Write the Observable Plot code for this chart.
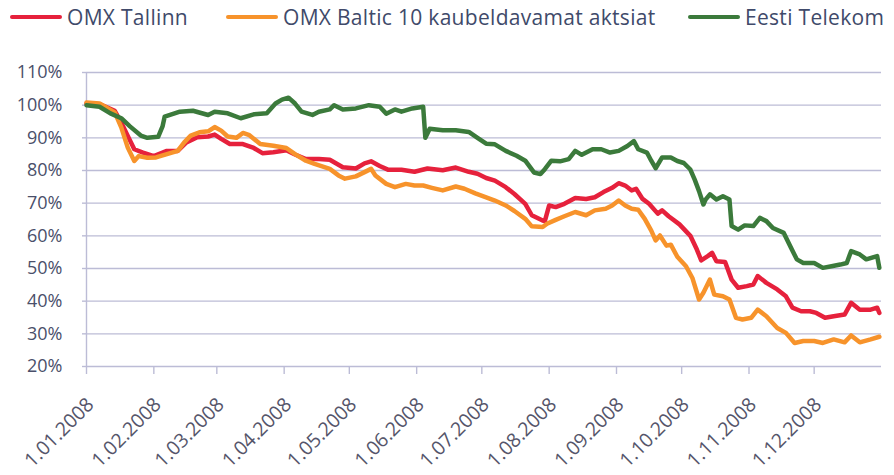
<!DOCTYPE html>
<html>
<head>
<meta charset="utf-8">
<script src="https://cdn.jsdelivr.net/npm/d3@7"></script>
<script src="https://cdn.jsdelivr.net/npm/@observablehq/plot@0.6"></script>
<style>
  html, body { margin: 0; padding: 0; background: #fff; }
  body { width: 894px; height: 475px; overflow: hidden; font-family: "Open Sans", sans-serif; }
  #legend { position: relative; height: 40px; width: 894px; }
  .item { position: absolute; top: 3px; display: flex; align-items: center; font-size: 21px; color: #404a6a; letter-spacing: 0.3px; white-space: nowrap; }
  .sw { display: inline-block; width: 52px; height: 4px; margin-right: 5px; border-radius: 2px; }
</style>
</head>
<body>
<div id="legend"></div>
<div id="chart"></div>
<script>
// Series names and colours
const seriesNames = ["OMX Tallinn", "OMX Baltic 10 kaubeldavamat aktsiat", "Eesti Telekom"];
const seriesColors = ["#e6213c", "#f7932b", "#3b7a3b"];
const legendLeft = [10, 226, 688];

// Day offsets from 1.01.2008 and index values (%)
const tallinnDay = [0,6,13,16,19,22,26,31,37,42,46,51,56,59,62,66,72,77,81,86,92,96,101,107,112,118,124,128,131,135,139,145,151,157,164,170,176,180,184,188,193,197,202,205,210,211,213,216,220,225,230,234,238,242,245,248,251,253,256,259,263,265,268,273,278,281,283,286,288,290,294,297,300,304,307,309,313,318,322,325,329,333,336,340,344,349,352,356,361,364,365];
const tallinnPct = [100.5,100.3,98.3,94.7,90.6,86.5,85.5,84.4,86,86,88.6,90.2,90.4,91,89.7,88.1,88.1,86.9,85.3,85.6,86.2,84.9,83.5,83.5,83.3,81,80.6,82.2,82.8,81.4,80.2,80.2,79.6,80.6,80.1,80.9,79.6,79,77.7,76.9,74.9,72.8,69.8,66.3,64.7,64.5,69.3,68.8,69.8,71.6,71.3,71.8,73.4,74.7,76.1,75.4,73.9,74.4,71.3,69.8,66.8,67.8,66,63.5,60,55.8,52.5,53.8,54.8,52.2,52,46.6,44.1,44.6,45.1,47.7,45.6,43.6,41.5,38,36.9,36.9,36.4,34.9,35.4,35.9,39.5,37.4,37.4,38,36.4];

const balticDay = [0,6,13,16,19,22,24,28,32,37,42,45,48,52,56,59,62,65,69,72,75,80,86,92,96,101,105,112,116,119,124,128,131,133,138,142,147,151,155,159,164,170,174,179,184,188,193,197,202,205,210,212,216,220,225,230,234,239,242,245,248,251,254,257,260,262,264,267,269,272,276,279,282,284,287,289,293,296,299,302,306,309,313,318,322,326,330,335,339,344,349,352,356,361,365];
const balticPct = [100.8,100.5,97.8,93.2,87,82.9,84.4,83.9,84,85,86,88.6,90.7,91.7,92,93.3,92.2,90.4,90,91.5,90.8,88.1,87.6,86.9,85,83,82,80.5,78.5,77.5,78.2,79.5,80.5,78.5,75.9,74.9,75.9,75.4,75.4,74.7,73.9,75.1,74.4,73,71.8,70.8,69.3,67.6,65.2,62.9,62.7,63.7,64.9,66,67.3,66.3,67.8,68.3,69.3,70.8,69.3,68.3,68,65.2,61.6,58.6,60.1,57,57.3,53.6,50.7,47,40.5,42.6,46.6,42,41.5,40.5,34.9,34.4,34.9,37.4,35.4,31.8,30.3,27.2,27.8,27.8,27.2,28.3,27.4,29.5,27.4,28.3,29.1];

const telekomDay = [0,6,11,16,20,25,28,33,35,36,43,49,56,59,65,71,77,83,87,90,93,96,99,104,107,112,114,118,124,130,135,138,142,145,150,155,156,158,164,170,176,180,184,188,193,198,202,206,209,211,214,218,222,225,228,233,237,241,245,249,252,254,258,260,262,265,269,272,275,278,280,282,284,285,287,290,293,296,297,300,303,307,310,313,316,321,324,327,330,335,339,343,347,350,352,356,359,364,365];
const telekomPct = [100,99.5,97.5,96,93.5,90.7,90,90.3,93.5,96.5,98,98.3,97,98,97.5,96,97.2,97.5,100.5,101.7,102.3,100.5,98,97,98,98.7,100,98.7,99,100,99.5,97.4,98.7,98,99,99.5,90,92.8,92.3,92.3,91.8,90,88.2,88,86,84.5,83,79.4,78.9,80.4,83,82.8,83.5,86,84.8,86.5,86.5,85.5,86,87.5,89,86.5,85.5,83,80.7,84,84,82.9,82.3,80.3,77.2,73.7,69.6,71.1,72.7,71.1,72.1,71.1,63,61.9,63.2,63,65.5,64.5,62.4,60.9,56.8,52.8,51.7,51.7,50.2,50.7,51.2,51.7,55.3,54.3,52.8,53.8,50.2];

// Axis ticks
const yTicks = [20,30,40,50,60,70,80,90,100,110];
const monthTickLabels = ["1.01.2008","1.02.2008","1.03.2008","1.04.2008","1.05.2008","1.06.2008","1.07.2008","1.08.2008","1.09.2008","1.10.2008","1.11.2008","1.12.2008"];

const toDate = d => new Date(Date.UTC(2008, 0, 1 + d));
const parseLabel = s => { const [d, m, y] = s.split(".").map(Number); return new Date(Date.UTC(y, m - 1, d)); };
const monthTicks = monthTickLabels.map(parseLabel);
const labelOf = new Map(monthTicks.map((t, i) => [+t, monthTickLabels[i]]));

const rows = [];
[[tallinnDay, tallinnPct], [balticDay, balticPct], [telekomDay, telekomPct]].forEach(([ds, vs], si) => {
  ds.forEach((d, i) => rows.push({series: seriesNames[si], date: toDate(d), value: vs[i]}));
});

// Legend
const legend = document.getElementById("legend");
seriesNames.forEach((n, i) => {
  const it = document.createElement("div");
  it.className = "item";
  it.style.left = legendLeft[i] + "px";
  it.innerHTML = `<span class="sw" style="background:${seriesColors[i]}"></span><span>${n}</span>`;
  legend.appendChild(it);
});

const grid = "#bcbcd6";
const xDomain = [new Date(Date.UTC(2008, 0, 1)), new Date(Date.UTC(2009, 0, 1))];

const chart = Plot.plot({
  width: 894,
  height: 435,
  marginLeft: 86,
  marginRight: 13,
  marginTop: 32,
  marginBottom: 109,
  style: {fontFamily: "'Open Sans', sans-serif", background: "#fff"},
  x: {type: "utc", domain: xDomain},
  y: {domain: [20, 110]},
  color: {domain: seriesNames, range: seriesColors},
  marks: [
    Plot.ruleY(yTicks, {y: d => d, x1: xDomain[0], x2: xDomain[1], stroke: grid, strokeWidth: 1.4}),
    Plot.axisY(yTicks, {tickSize: 4, tickPadding: 20, stroke: grid, strokeWidth: 1.4, tickFormat: d => d + "%", fontSize: 18, fill: "#4a4f6a", label: null}),
    Plot.ruleX([xDomain[0]], {stroke: grid, strokeWidth: 1.4}),
    Plot.axisX(monthTicks, {tickSize: 8, stroke: grid, strokeWidth: 1.4, tickFormat: () => "", label: null}),
    Plot.axisX(monthTicks, {tickSize: 0, tickRotate: -45, tickPadding: 35, dx: 4, tickFormat: d => labelOf.get(+d), fontSize: 19.5, fill: "#55556a", label: null}),
    Plot.line(rows, {x: "date", y: "value", z: "series", stroke: "series", strokeWidth: 4.5, strokeLinejoin: "round", strokeLinecap: "round", curve: "linear"})
  ]
});
document.getElementById("chart").appendChild(chart);
</script>
</body>
</html>
